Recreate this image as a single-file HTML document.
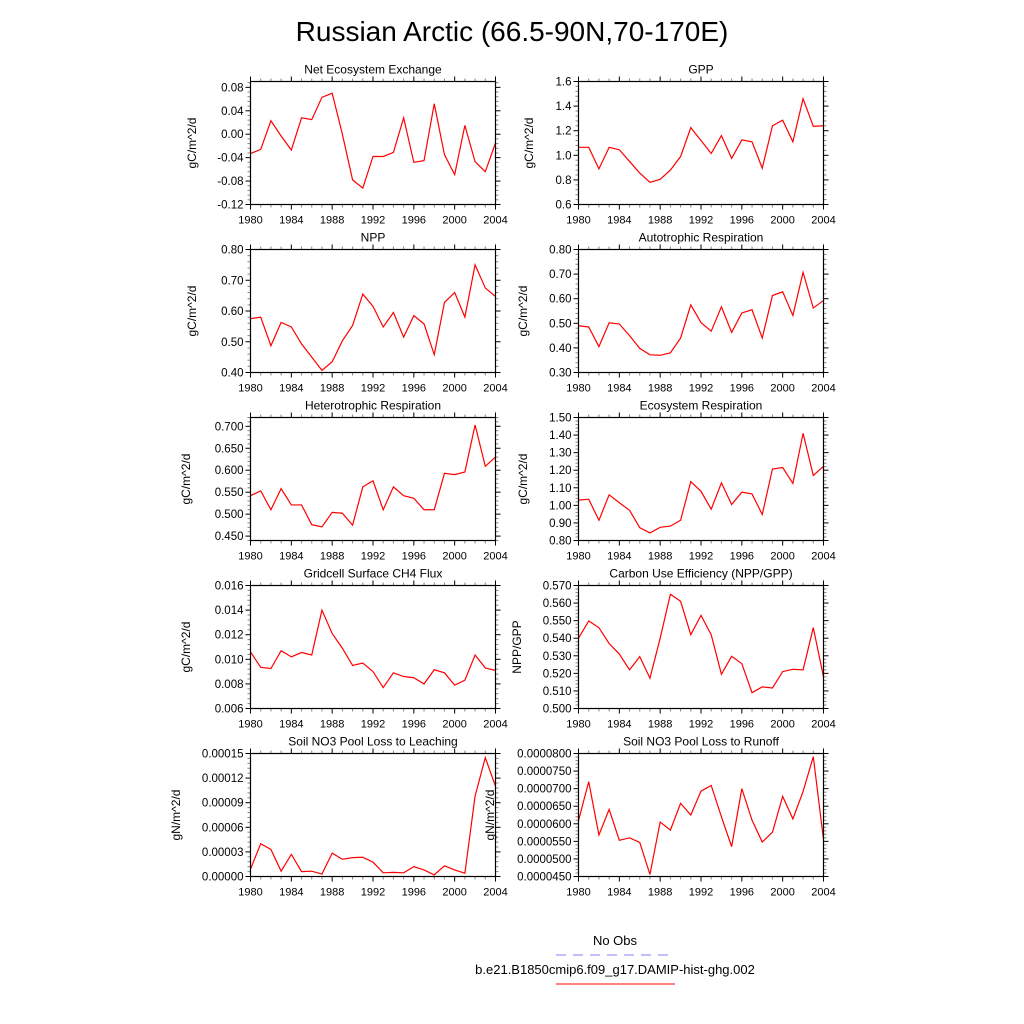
<!DOCTYPE html>
<html><head><meta charset="utf-8"><style>
html,body{margin:0;padding:0;background:#fff;}
svg{display:block;font-family:"Liberation Sans",sans-serif;}
</style></head><body>
<svg id="fig" width="1024" height="1024" viewBox="0 0 1024 1024" xmlns="http://www.w3.org/2000/svg">
<rect width="1024" height="1024" fill="#fff"/>
<text x="512" y="41" font-size="28" text-anchor="middle">Russian Arctic (66.5-90N,70-170E)</text>
<g>
<text x="615" y="945" font-size="13" text-anchor="middle">No Obs</text>
<line x1="556" y1="955" x2="675" y2="955" stroke="#8080ff" stroke-width="1" stroke-dasharray="10,7"/>
<text x="615" y="974" font-size="13" text-anchor="middle">b.e21.B1850cmip6.f09_g17.DAMIP-hist-ghg.002</text>
<line x1="556" y1="984" x2="675" y2="984" stroke="#ff0000" stroke-width="1"/>
</g>
</svg>
<script>
const years = [1980,1981,1982,1983,1984,1985,1986,1987,1988,1989,1990,1991,1992,1993,1994,1995,1996,1997,1998,1999,2000,2001,2002,2003,2004];
const xTickLabels = ["1980","1984","1988","1992","1996","2000","2004"];
const neeValues = [-0.033,-0.026,0.023,-0.003,-0.027,0.028,0.025,0.063,0.070,0.000,-0.078,-0.092,-0.038,-0.038,-0.031,0.028,-0.048,-0.045,0.052,-0.035,-0.069,0.015,-0.047,-0.064,-0.015];
const gppValues = [1.065,1.065,0.89,1.065,1.045,0.95,0.855,0.78,0.805,0.88,0.99,1.225,1.12,1.015,1.16,0.975,1.125,1.11,0.895,1.24,1.285,1.11,1.46,1.235,1.24];
const nppValues = [0.575,0.58,0.487,0.563,0.548,0.493,0.45,0.407,0.435,0.503,0.553,0.655,0.615,0.548,0.595,0.515,0.585,0.558,0.458,0.628,0.66,0.58,0.75,0.675,0.647];
const arValues = [0.49,0.485,0.405,0.502,0.497,0.45,0.398,0.372,0.37,0.38,0.44,0.575,0.503,0.468,0.567,0.463,0.542,0.555,0.44,0.613,0.628,0.532,0.707,0.562,0.593];
const hrValues = [0.542,0.553,0.51,0.558,0.521,0.521,0.476,0.471,0.504,0.502,0.475,0.562,0.576,0.51,0.562,0.542,0.536,0.51,0.51,0.593,0.59,0.596,0.703,0.609,0.63];
const erValues = [1.03,1.035,0.915,1.06,1.015,0.972,0.873,0.843,0.875,0.882,0.915,1.135,1.08,0.978,1.128,1.005,1.075,1.065,0.948,1.207,1.215,1.125,1.41,1.17,1.222];
const ch4Values = [0.0106,0.00935,0.00925,0.0107,0.0102,0.01055,0.01035,0.014,0.0121,0.0109,0.0095,0.0097,0.0090,0.0077,0.0089,0.0086,0.0085,0.0080,0.00915,0.0089,0.0079,0.0083,0.01035,0.0093,0.0091];
const cueValues = [0.540,0.5498,0.546,0.537,0.531,0.522,0.5295,0.5172,0.540,0.565,0.561,0.542,0.553,0.542,0.5195,0.5297,0.5255,0.509,0.5123,0.5117,0.521,0.5223,0.522,0.546,0.518];
const leachValues = [0.000009,0.000040,0.000033,0.0000065,0.000027,0.000006,0.0000065,0.000003,0.0000285,0.000021,0.000023,0.0000235,0.0000175,0.0000045,0.000005,0.0000045,0.000012,0.000008,0.000002,0.000013,0.000008,0.000004,0.000098,0.000145,0.000110];
const runoffValues = [0.0000609,0.0000720,0.0000568,0.0000641,0.0000553,0.0000560,0.0000547,0.0000456,0.0000605,0.0000582,0.0000658,0.0000625,0.0000693,0.0000709,0.0000620,0.0000535,0.0000700,0.0000610,0.0000548,0.0000576,0.0000678,0.0000614,0.0000692,0.0000791,0.0000555];
const neeTicks = ["-0.12","-0.08","-0.04","0.00","0.04","0.08"];
const gppTicks = ["0.6","0.8","1.0","1.2","1.4","1.6"];
const nppTicks = ["0.40","0.50","0.60","0.70","0.80"];
const arTicks = ["0.30","0.40","0.50","0.60","0.70","0.80"];
const hrTicks = ["0.450","0.500","0.550","0.600","0.650","0.700"];
const erTicks = ["0.80","0.90","1.00","1.10","1.20","1.30","1.40","1.50"];
const ch4Ticks = ["0.006","0.008","0.010","0.012","0.014","0.016"];
const cueTicks = ["0.500","0.510","0.520","0.530","0.540","0.550","0.560","0.570"];
const leachTicks = ["0.00000","0.00003","0.00006","0.00009","0.00012","0.00015"];
const runoffTicks = ["0.0000450","0.0000500","0.0000550","0.0000600","0.0000650","0.0000700","0.0000750","0.0000800"];

const NS = "http://www.w3.org/2000/svg";
const svg = document.getElementById("fig");
function mk(tag, attrs, parent){
  const e = document.createElementNS(NS, tag);
  for (const k in attrs) e.setAttribute(k, attrs[k]);
  parent.appendChild(e);
  return e;
}
const LX = [250.5, 578.5], PW = 245, PH = 123, TOP0 = 81.5, DY = 168;
const panels = [
  {slug:"nee", title:"Net Ecosystem Exchange", vals:neeValues, ticks:neeTicks, min:-0.12, max:0.09, ylab:"gC/m^2/d", col:0,row:0, lx:196},
  {slug:"gpp", title:"GPP", vals:gppValues, ticks:gppTicks, min:0.6, max:1.6, ylab:"gC/m^2/d", col:1,row:0, lx:533},
  {slug:"npp", title:"NPP", vals:nppValues, ticks:nppTicks, min:0.4, max:0.8, ylab:"gC/m^2/d", col:0,row:1, lx:196},
  {slug:"ar", title:"Autotrophic Respiration", vals:arValues, ticks:arTicks, min:0.3, max:0.8, ylab:"gC/m^2/d", col:1,row:1, lx:527},
  {slug:"hr", title:"Heterotrophic Respiration", vals:hrValues, ticks:hrTicks, min:0.44, max:0.72, ylab:"gC/m^2/d", col:0,row:2, lx:190},
  {slug:"er", title:"Ecosystem Respiration", vals:erValues, ticks:erTicks, min:0.8, max:1.5, ylab:"gC/m^2/d", col:1,row:2, lx:527},
  {slug:"ch4", title:"Gridcell Surface CH4 Flux", vals:ch4Values, ticks:ch4Ticks, min:0.006, max:0.016, ylab:"gC/m^2/d", col:0,row:3, lx:190},
  {slug:"cue", title:"Carbon Use Efficiency (NPP/GPP)", vals:cueValues, ticks:cueTicks, min:0.5, max:0.57, ylab:"NPP/GPP", col:1,row:3, lx:521},
  {slug:"leaching", title:"Soil NO3 Pool Loss to Leaching", vals:leachValues, ticks:leachTicks, min:0, max:0.00015, ylab:"gN/m^2/d", col:0,row:4, lx:180},
  {slug:"runoff", title:"Soil NO3 Pool Loss to Runoff", vals:runoffValues, ticks:runoffTicks, min:0.000045, max:0.00008, ylab:"gN/m^2/d", col:1,row:4, lx:494}
];
panels.forEach(p => {
  const x0 = LX[p.col], y0 = TOP0 + p.row*DY, x1 = x0+PW, y1 = y0+PH;
  const g = mk("g", {}, svg);
  
  
  const xs = v => x0 + (v - years[0])/(years[years.length-1]-years[0])*PW;
  const ys = v => y1 - (v - p.min)/(p.max - p.min)*PH;
  // title
  const t = mk("text", {x:(x0+x1)/2, y:y0-8, "font-size":12, "text-anchor":"middle"}, g);
  
  
  t.textContent = p.title;
  // ylabel
  const yl = mk("text", {x:p.lx, y:(y0+y1)/2, "font-size":12, "text-anchor":"middle", transform:`rotate(-90 ${p.lx} ${(y0+y1)/2})`}, g);
  
  
  yl.textContent = p.ylab;
  // x ticks
  years.forEach(yr => {
    const major = (yr - 1980) % 4 === 0;
    const len = major ? 5 : 3;
    const col = major ? "#000" : "#888";
    const X = xs(yr);
    mk("line", {x1:X, y1:y1, x2:X, y2:y1+len, stroke:col, "stroke-width":1}, g);
    mk("line", {x1:X, y1:y0, x2:X, y2:y0-len, stroke:col, "stroke-width":1}, g);
  });
  xTickLabels.forEach(lbl => {
    const X = xs(parseFloat(lbl));
    const tl = mk("text", {x:X, y:y1+19, "font-size":11, "text-anchor":"middle"}, g);
    
    
    tl.textContent = lbl;
  });
  // y ticks
  const tv = p.ticks.map(Number);
  const step = tv[1]-tv[0];
  for (let i=0;i<tv.length;i++){
    for (let m=0;m<5;m++){
      const v = tv[i] + m*step/5;
      if (v < p.min - 1e-12 || v > p.max + 1e-12) continue;
      const Y = ys(v), len = m===0?5:3, col = m===0?"#000":"#888";
      mk("line", {x1:x0, y1:Y, x2:x0-len, y2:Y, stroke:col, "stroke-width":1}, g);
      mk("line", {x1:x1, y1:Y, x2:x1+len, y2:Y, stroke:col, "stroke-width":1}, g);
    }
    for (let m=1;m<5;m++){
      const v = tv[0] - m*step/5;
      if (v < p.min - 1e-12) continue;
      const Y = ys(v);
      mk("line", {x1:x0, y1:Y, x2:x0-3, y2:Y, stroke:"#888", "stroke-width":1}, g);
      mk("line", {x1:x1, y1:Y, x2:x1+3, y2:Y, stroke:"#888", "stroke-width":1}, g);
    }
    const tl = mk("text", {x:x0-7, y:ys(tv[i])+4, "font-size":11.5, "text-anchor":"end"}, g);
    
    
    tl.textContent = p.ticks[i];
  }
  // series
  const pts = p.vals.map((v,i) => xs(years[i]).toFixed(2)+","+ys(v).toFixed(2)).join(" ");
  const cp = mk("clipPath", {id:"clip-"+p.slug}, g);
  mk("rect", {x:x0, y:y0, width:PW, height:PH}, cp);
  const line = mk("polyline", {points:pts, fill:"none", stroke:"#ff0000", "stroke-width":1.2, "clip-path":`url(#clip-${p.slug})`}, g);
  
  
  // frame
  const fr = mk("rect", {x:x0, y:y0, width:PW, height:PH, fill:"none", stroke:"#000", "stroke-width":1.2}, g);
  
  
});
</script>
</body></html>
